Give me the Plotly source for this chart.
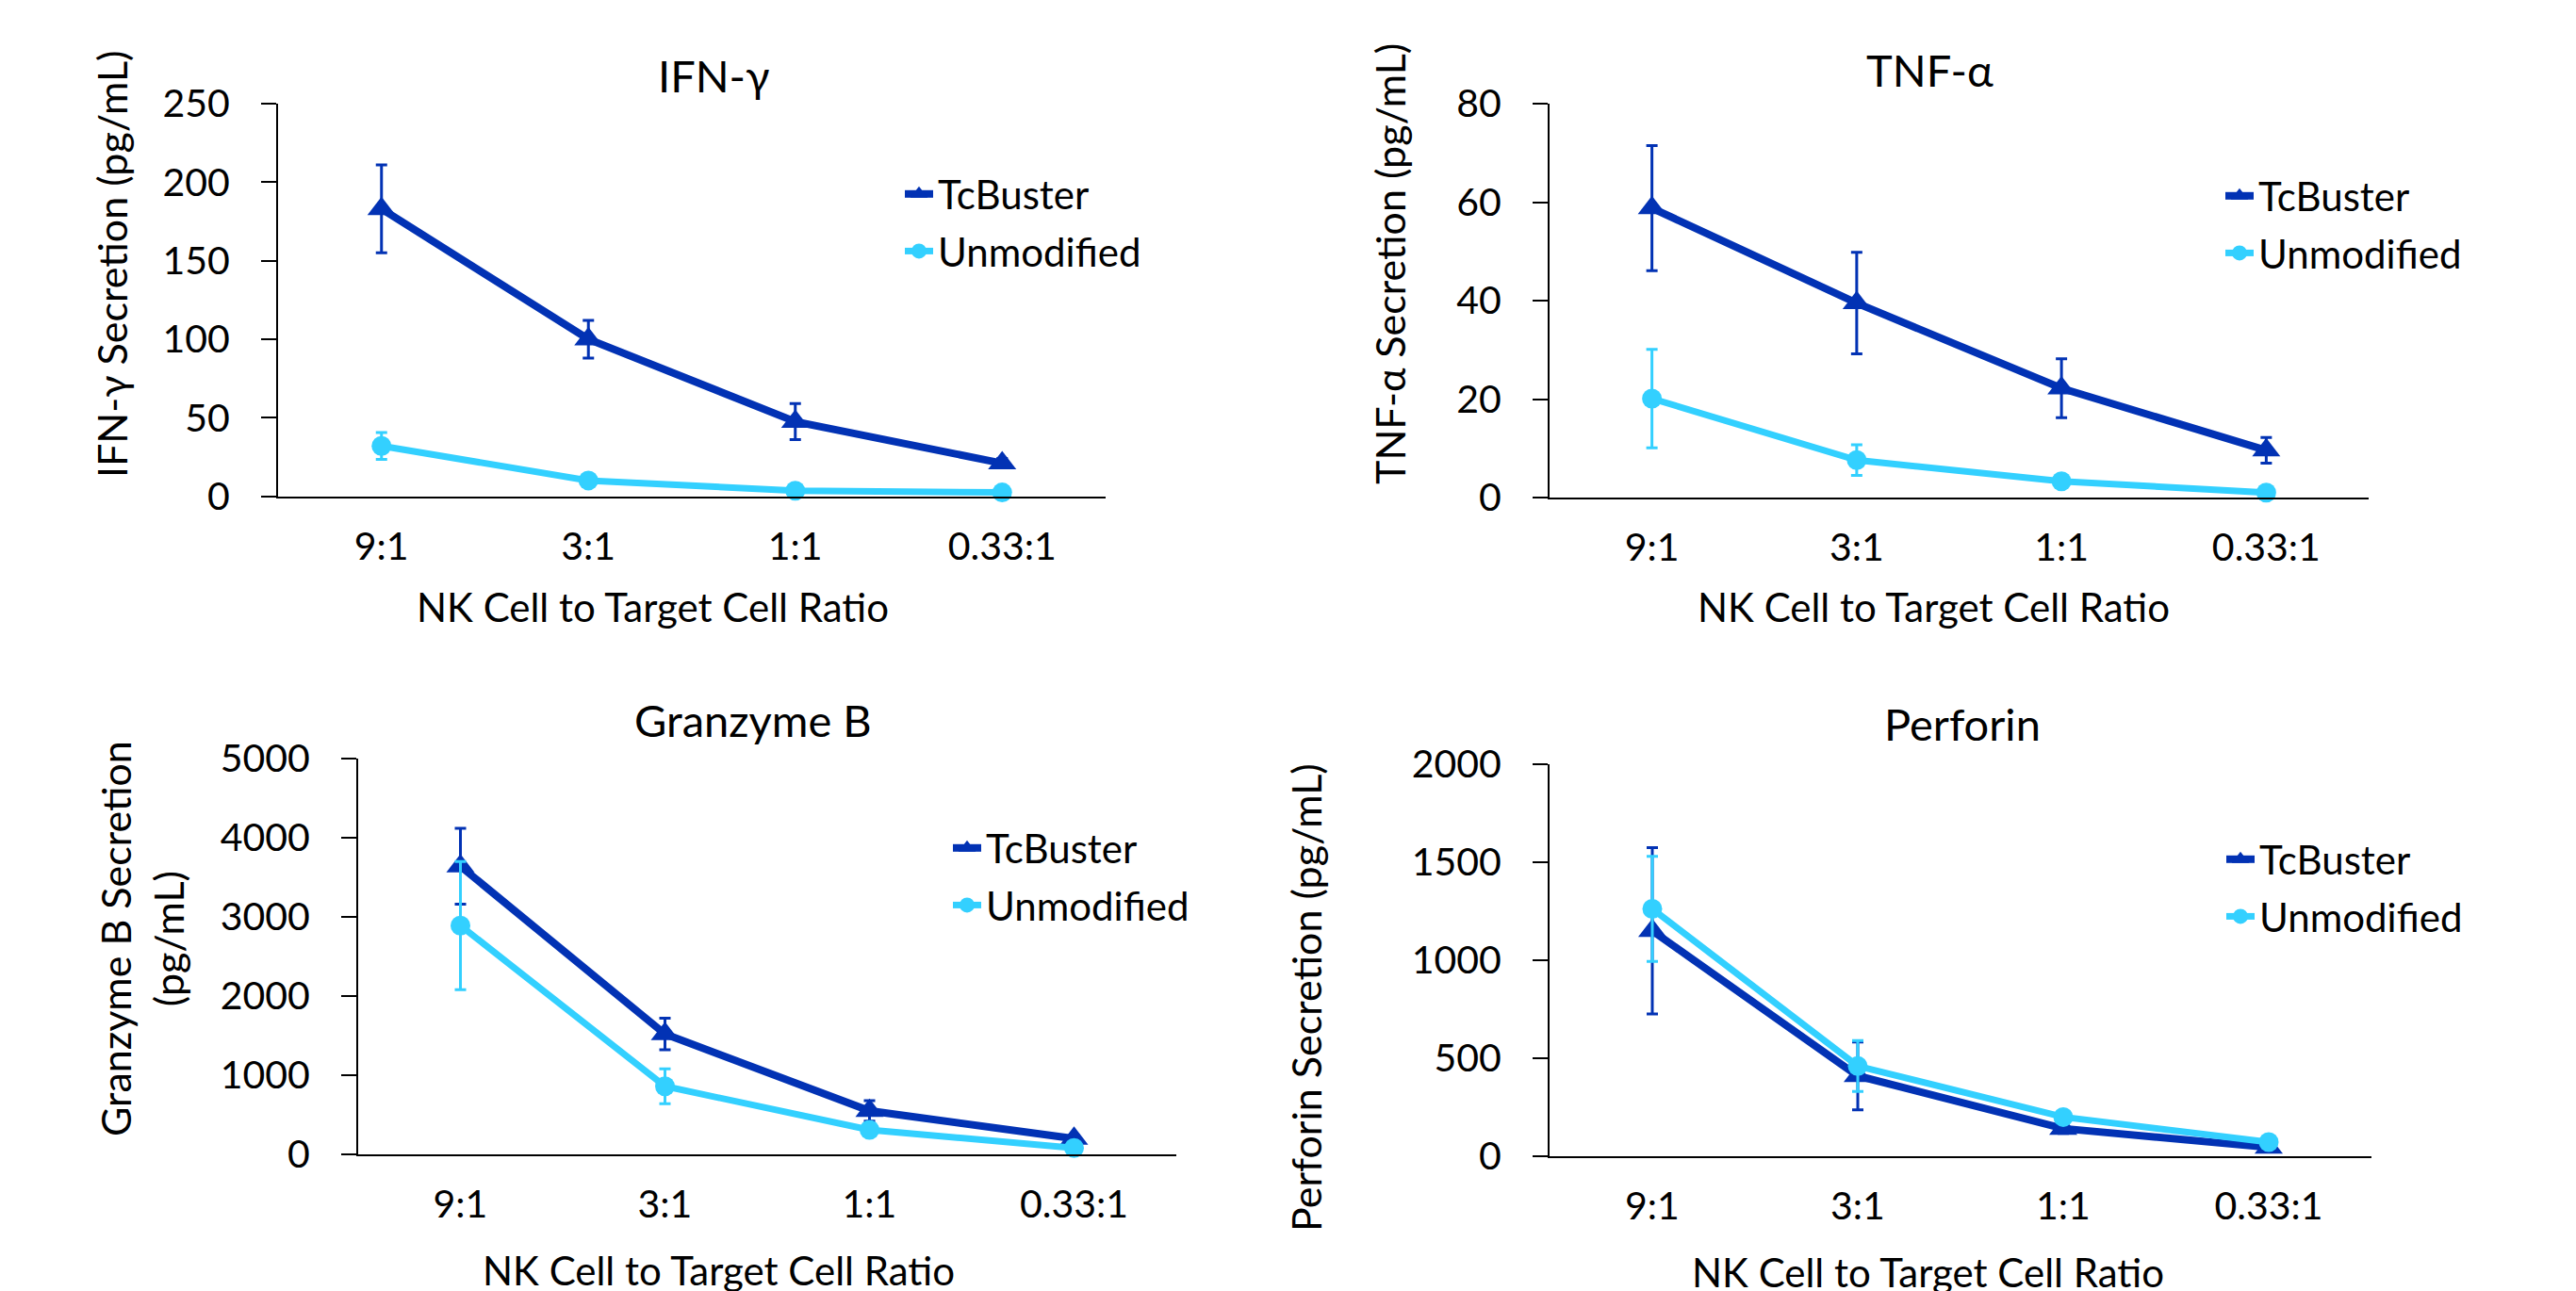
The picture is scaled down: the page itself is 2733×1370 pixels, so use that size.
import plotly.graph_objects as go

W, H = 2733, 1370

ratios = ["9:1", "3:1", "1:1", "0.33:1"]
series_names = ["TcBuster", "Unmodified"]

ifn_tc = [183, 100, 47.5, 21]
ifn_tc_err = [28, 12, 11.5, 3]
ifn_un = [32, 10, 3.5, 2.4]
ifn_un_err = [8.5, 1.5, 1, 0.5]

tnf_tc = [58.8, 39.5, 22.2, 9.6]
tnf_tc_err = [12.7, 10.3, 6, 2.6]
tnf_un = [20.1, 7.6, 3.3, 1.0]
tnf_un_err = [10, 3.1, 0.5, 0.3]

gzb_tc = [3640, 1520, 550, 200]
gzb_tc_err = [480, 200, 130, 40]
gzb_un = [2890, 860, 310, 80]
gzb_un_err = [810, 220, 40, 20]

perf_tc = [1150, 410, 141, 45]
perf_tc_err = [424, 173, 25, 10]
perf_un = [1262, 460, 200, 72]
perf_un_err = [268, 130, 20, 10]

titles = ["IFN-γ", "TNF-α", "Granzyme B", "Perforin"]
ytitles = ["IFN-γ Secretion (pg/mL)", "TNF-α Secretion (pg/mL)",
           "Granzyme B Secretion<br>(pg/mL)", "Perforin Secretion (pg/mL)"]
xtitle = "NK Cell to Target Cell Ratio"
yranges = [(0, 250, 50), (0, 80, 20), (0, 5000, 1000), (0, 2000, 500)]

panels = [
    (ifn_tc, ifn_tc_err, ifn_un, ifn_un_err),
    (tnf_tc, tnf_tc_err, tnf_un, tnf_un_err),
    (gzb_tc, gzb_tc_err, gzb_un, gzb_un_err),
    (perf_tc, perf_tc_err, perf_un, perf_un_err),
]

DARK = "#0232B4"
LIGHT = "#33D0FF"
FONT = "Lato"

# plot-area boxes in pixels: x0, x1, ytop, ybottom
boxes = [
    (287, 1165, 102, 518.6),
    (1636, 2505, 102, 520),
    (372, 1240, 797, 1217),
    (1636, 2508, 803, 1219),
]
# title centers
title_pos = [(749, 72), (2039, 66), (791, 756), (2074, 760)]
ytitle_pos = [(110, 272), (1466, 272), (142, 988), (1377, 1050)]
xtitle_pos = [(684, 636), (2043, 636), (754, 1340), (2037, 1342)]
legend_pos = [(947, 164), (2348, 166), (998, 858), (2349, 870)]

fig = go.Figure()
layout = dict(
    width=W, height=H,
    margin=dict(l=0, r=0, t=0, b=0, pad=0, autoexpand=False),
    paper_bgcolor="white", plot_bgcolor="white",
    font=dict(family=FONT, size=42, color="black"),
    showlegend=True,
)
annotations = []

for i, (tc, tce, un, une) in enumerate(panels):
    k = "" if i == 0 else str(i + 1)
    lg = "legend" if i == 0 else f"legend{i + 1}"
    fig.add_trace(go.Scatter(
        x=ratios, y=tc, name=series_names[0], mode="lines+markers",
        xaxis="x" + k, yaxis="y" + k, legend=lg, legendgroup=f"a{i}",
        line=dict(color=DARK, width=8),
        marker=dict(symbol="triangle-up", size=26, color=DARK),
        error_y=dict(type="data", array=tce, visible=True, color=DARK,
                     thickness=3, width=6),
        cliponaxis=False,
    ))
    fig.add_trace(go.Scatter(
        x=ratios, y=un, name=series_names[1], mode="lines+markers",
        xaxis="x" + k, yaxis="y" + k, legend=lg, legendgroup=f"b{i}",
        line=dict(color=LIGHT, width=7),
        marker=dict(symbol="circle", size=21, color=LIGHT),
        error_y=dict(type="data", array=une, visible=True, color=LIGHT,
                     thickness=3, width=6),
        cliponaxis=False,
    ))
    x0, x1, yt, yb = boxes[i]
    y0, y1, dt = yranges[i]
    layout["xaxis" + k] = dict(
        domain=[x0 / W, x1 / W], anchor="y" + k, type="category",
        range=[-0.5, 3.5], showline=True, linecolor="black", linewidth=2,
        ticks="", showgrid=False, zeroline=False, automargin=False,
        tickfont=dict(size=41), ticklabelstandoff=16,
    )
    layout["yaxis" + k] = dict(
        domain=[1 - yb / H, 1 - yt / H], anchor="x" + k,
        range=[y0, y1], dtick=dt, tick0=0, showline=True, linecolor="black",
        linewidth=2, ticks="outside", ticklen=16, tickwidth=2, tickcolor="black",
        showgrid=False, zeroline=False, tickfont=dict(size=41), automargin=False,
        ticklabelstandoff=25,
    )
    lx, ly = legend_pos[i]
    layout[lg] = dict(
        x=lx / W, y=1 - ly / H, xanchor="left", yanchor="top",
        font=dict(size=42, family=FONT), bgcolor="rgba(0,0,0,0)",
        tracegroupgap=3, itemwidth=30, itemsizing="trace",
    )
    tx, ty = title_pos[i]
    annotations.append(dict(text=titles[i], x=tx / W, y=1 - ty / H,
                            xref="paper", yref="paper", showarrow=False,
                            font=dict(size=47), xanchor="center", yanchor="middle"))
    ax, ay = ytitle_pos[i]
    annotations.append(dict(text=ytitles[i], x=ax / W, y=1 - ay / H,
                            xref="paper", yref="paper", showarrow=False,
                            textangle=-90, font=dict(size=43),
                            xanchor="center", yanchor="middle"))
    bx, by = xtitle_pos[i]
    annotations.append(dict(text=xtitle, x=bx / W, y=1 - by / H,
                            xref="paper", yref="paper", showarrow=False,
                            font=dict(size=42), xanchor="center", yanchor="middle"))

layout["annotations"] = annotations
fig.update_layout(**layout)
fig.write_html("out.html")
